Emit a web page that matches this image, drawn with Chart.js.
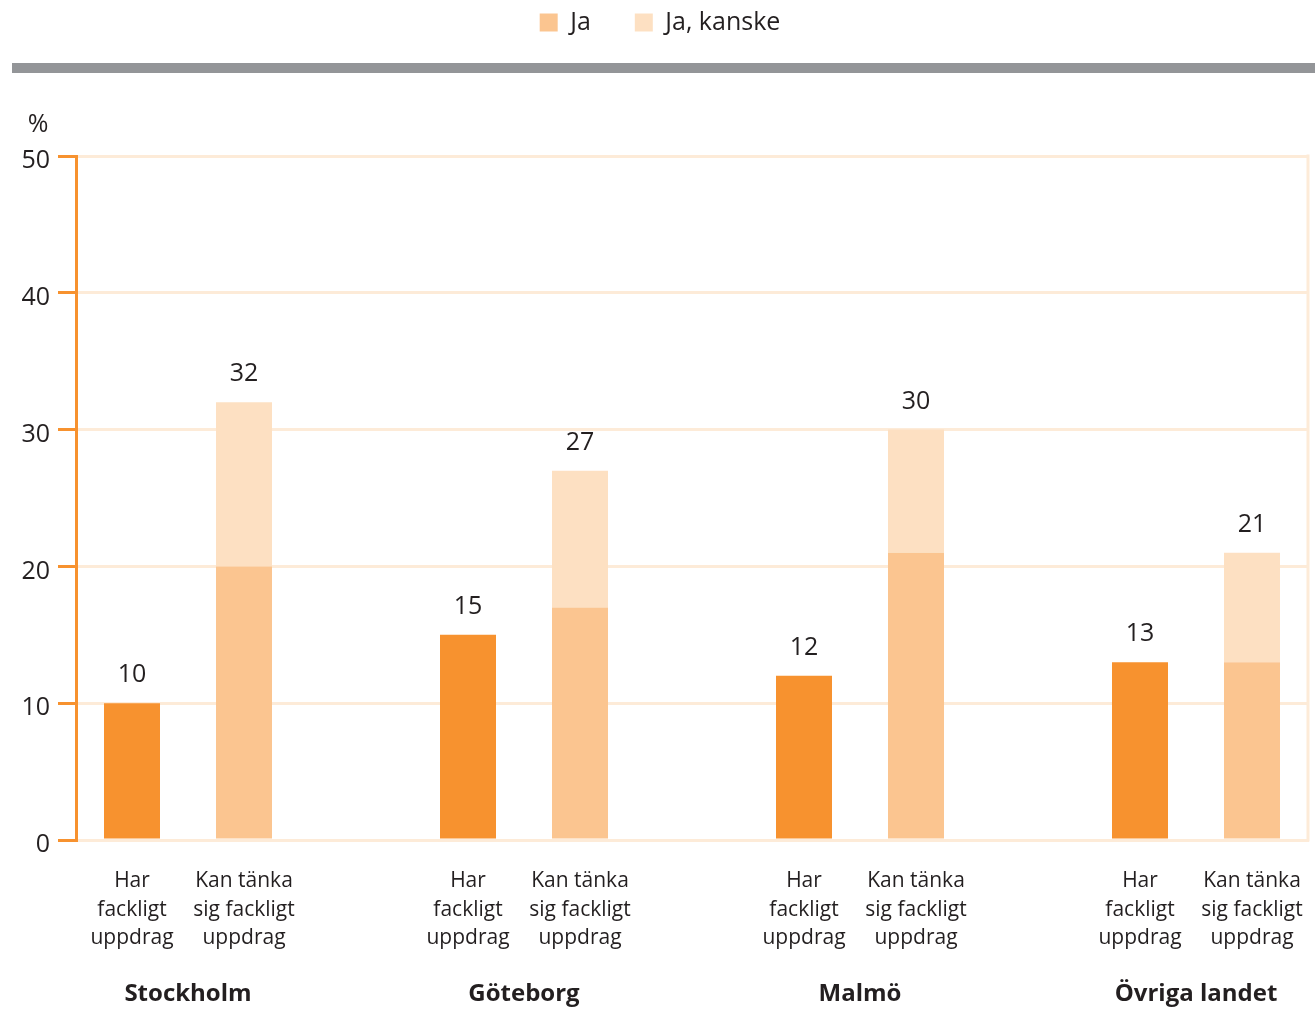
<!DOCTYPE html>
<html>
<head>
<meta charset="utf-8">
<script src="https://cdn.jsdelivr.net/npm/chart.js@4"></script>
<style>
  html, body { margin: 0; padding: 0; background: #fff; }
  #wrap { width: 1315px; height: 1011px; position: relative; }
</style>
</head>
<body>
<div id="wrap"><canvas id="c"></canvas></div>
<script>
// ---- data ----
const groups = ['Stockholm', 'Göteborg', 'Malmö', 'Övriga landet'];
const barLabels = [['Har', 'fackligt', 'uppdrag'], ['Kan tänka', 'sig fackligt', 'uppdrag']];
const harValues = [10, 15, 12, 13];      // Har fackligt uppdrag
const jaValues = [20, 17, 21, 13];       // Kan tänka sig – Ja
const kanskeValues = [12, 10, 9, 8];     // Kan tänka sig – Ja, kanske
const yTicks = [0, 10, 20, 30, 40, 50];

// ---- build slot layout (2 bars per group, empty slot between groups) ----
const labels = [], harData = [], jaData = [], kanskeData = [], groupOfSlot = [];
groups.forEach((g, i) => {
  labels.push(barLabels[0]); harData.push(harValues[i]); jaData.push(null); kanskeData.push(null); groupOfSlot.push(i);
  labels.push(barLabels[1]); harData.push(null); jaData.push(jaValues[i]); kanskeData.push(kanskeValues[i]); groupOfSlot.push(i);
  if (i < groups.length - 1) { labels.push(''); harData.push(null); jaData.push(null); kanskeData.push(null); groupOfSlot.push(-1); }
});

const DARK = '#F7922F', LIGHT = '#FBC590', LIGHTER = '#FDE0C2', GRID = '#FDEBD8', TEXT = '#231F20';
const FONT = "'Open Sans', 'Noto Sans', sans-serif";

const legendSpace = {
  id: 'legendSpace',
  beforeInit(chart) {
    const origFit = chart.legend.fit;
    chart.legend.fit = function () { origFit.bind(chart.legend)(); this.height += 77; };
  },
  afterLayout(chart) {
    chart.legend.top -= 34;
    chart.legend.bottom -= 34;
    chart.legend.left += 6;
    chart.legend.right += 6;
  }
};

const decor = {
  id: 'decor',
  beforeDraw(chart) {
    const ctx = chart.ctx;
    ctx.save();
    ctx.fillStyle = '#939598';
    ctx.fillRect(12, 63, chart.width - 12, 10);
    ctx.restore();
  },
  afterDraw(chart) {
    const ctx = chart.ctx, area = chart.chartArea, x = chart.scales.x, y = chart.scales.y;
    ctx.save();
    // right frame
    ctx.strokeStyle = GRID; ctx.lineWidth = 3;
    ctx.beginPath(); ctx.moveTo(area.right, area.top - 1.5); ctx.lineTo(area.right, area.bottom + 1.5); ctx.stroke();
    // y tick labels (slightly below their gridlines, as in the original)
    ctx.fillStyle = TEXT; ctx.font = '25px ' + FONT; ctx.textAlign = 'right'; ctx.textBaseline = 'middle';
    yTicks.forEach(v => ctx.fillText(String(v), area.left - 26, y.getPixelForValue(v) + 5));
    // % label
    ctx.textAlign = 'center';
    ctx.fillText('%', 38, 125);
    // group labels
    ctx.font = 'bold 24px ' + FONT;
    groups.forEach((g, i) => {
      const idx = groupOfSlot.indexOf(i);
      const cx = (x.getPixelForValue(idx) + x.getPixelForValue(idx + 1)) / 2;
      ctx.fillText(g, cx, 994);
    });
    ctx.restore();
  },
  afterDatasetsDraw(chart) {
    const ctx = chart.ctx;
    ctx.save();
    ctx.fillStyle = TEXT; ctx.font = '25px ' + FONT; ctx.textAlign = 'center'; ctx.textBaseline = 'middle';
    labels.forEach((l, i) => {
      let total = 0, top = null, cx = null;
      chart.data.datasets.forEach((ds, d) => {
        const v = ds.data[i];
        if (v == null) return;
        total += v;
        const el = chart.getDatasetMeta(d).data[i];
        if (top === null || el.y < top) top = el.y;
        cx = el.x;
      });
      if (top !== null) ctx.fillText(String(total), cx, top - 28);
    });
    ctx.restore();
  }
};

new Chart(document.getElementById('c'), {
  type: 'bar',
  data: {
    labels: labels,
    datasets: [
      { label: 'Har', data: harData, backgroundColor: DARK, stack: 's' },
      { label: 'Ja', data: jaData, backgroundColor: LIGHT, stack: 's' },
      { label: 'Ja, kanske', data: kanskeData, backgroundColor: LIGHTER, stack: 's' }
    ]
  },
  options: {
    responsive: true,
    maintainAspectRatio: false,
    animation: false,
    layout: { padding: { left: 0, right: 7, top: 0, bottom: 0 } },
    datasets: { bar: { barPercentage: 0.5, categoryPercentage: 1 } },
    plugins: {
      tooltip: { enabled: false },
      legend: {
        position: 'top',
        labels: {
          filter: item => item.text !== 'Har',
          boxWidth: 18, boxHeight: 18, padding: 44,
          color: TEXT, font: { family: FONT, size: 25 }
        }
      }
    },
    scales: {
      x: {
        stacked: true,
        grid: { display: false },
        border: { display: true, color: GRID, width: 3 },
        ticks: { color: TEXT, font: { family: FONT, size: 21, lineHeight: 1.36 }, padding: 19, maxRotation: 0, autoSkip: false },
        afterFit(s) { s.height = 171; s.paddingLeft = 0; s.paddingRight = 0; }
      },
      y: {
        stacked: true,
        min: 0, max: 50,
        afterBuildTicks(s) { s.ticks = yTicks.map(v => ({ value: v })); },
        grid: { color: GRID, lineWidth: 3, tickColor: DARK, tickLength: 18, tickWidth: 3, drawTicks: true },
        border: { display: true, color: DARK, width: 3 },
        ticks: { color: 'rgba(0,0,0,0)', font: { family: FONT, size: 25 }, padding: 8 },
        afterFit(s) { s.width = 76; }
      }
    }
  },
  plugins: [legendSpace, decor]
});
</script>
</body>
</html>
